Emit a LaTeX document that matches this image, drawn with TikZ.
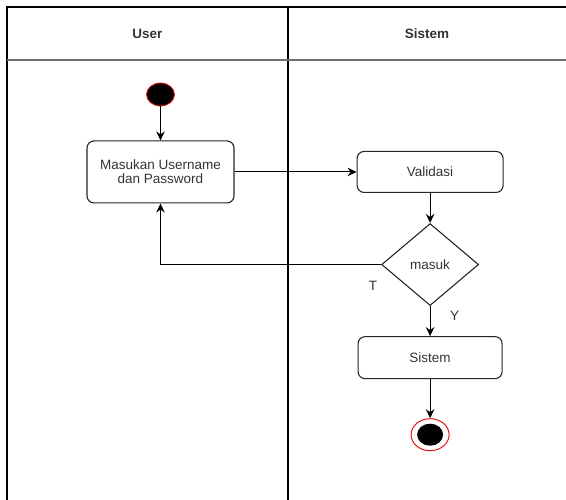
\documentclass[tikz,border=0pt]{standalone}
\usepackage{fontspec}
\setmainfont{Liberation Sans}
\usetikzlibrary{shapes.geometric, arrows.meta, positioning}
\definecolor{textgray}{RGB}{51,51,51}
\definecolor{lanegray}{RGB}{110,110,110}
\definecolor{startred}{RGB}{230,20,20}

\begin{document}
\begin{tikzpicture}[x=1pt, y=-1pt, >={Stealth[length=9pt,width=8.5pt,inset=3pt]}, font=\fontsize{13.5}{14}\selectfont]
  \tikzstyle{action} = [rectangle, draw=black!85, line width=1.1pt, rounded corners=7pt, align=center, inner sep=0pt, text=textgray]
  \tikzstyle{decision} = [diamond, draw=black!85, line width=1.1pt, inner sep=0pt, minimum width=97pt, minimum height=82pt, text=textgray]
  \tikzstyle{startdot} = [ellipse, draw=startred, fill=black, line width=0.8pt, inner sep=0pt, minimum width=28pt, minimum height=23pt]
  \tikzstyle{stopring} = [ellipse, draw=startred, fill=white, line width=1pt, inner sep=0pt, minimum width=38pt, minimum height=32pt]
  \tikzstyle{stopdot} = [ellipse, fill=black, inner sep=0pt, minimum width=26pt, minimum height=22pt]
  \tikzstyle{lane} = [font=\bfseries\fontsize{13.5}{14}\selectfont, text=textgray, inner sep=0pt]
  \tikzstyle{guard} = [text=textgray, inner sep=0pt]
  \tikzstyle{flow} = [->, line width=1.1pt]

  \useasboundingbox (0,0) rectangle (566,500);

  % swimlanes
  \draw[line width=1.3pt] (7,500) -- (7,7) -- (566,7);
  \draw[line width=1.3pt] (288,7) -- (288,500);
  \draw[lanegray, line width=1.8pt] (7,60) -- (566,60);
  \node[lane] (user) at (147.5,33.5) {User};
  \node[lane] (sis) at (427,33.5) {Sistem};

  % activities
  \node[startdot] (start) at (160.5,94.5) {};
  \node[action, below=34pt of start, minimum width=147pt, minimum height=62pt] (masukan) {Masukan Username\\dan Password};
  \node[action, right=122pt of masukan, minimum width=146pt, minimum height=41pt] (validasi) {Validasi};
  \node[decision, below=30pt of validasi] (masuk) {masuk};
  \node[action, below=30pt of masuk, minimum width=144pt, minimum height=42pt] (sistem) {Sistem};
  \node[stopring, below=39pt of sistem] (stop) {};
  \node[stopdot] (stopdot) at (stop) {};

  \draw[flow] (start) -- (masukan);
  \draw[flow] (masukan) -- (validasi);
  \draw[flow] (validasi) -- (masuk);
  \draw[flow] (masuk.west) -| node[guard, at start, xshift=-8pt, yshift=-21pt] {T} (masukan.south);
  \draw[flow] (masuk) -- node[guard, at start, xshift=24.5pt, yshift=-10pt] {Y} (sistem);
  \draw[flow] (sistem) -- (stop);
\end{tikzpicture}
\end{document}
